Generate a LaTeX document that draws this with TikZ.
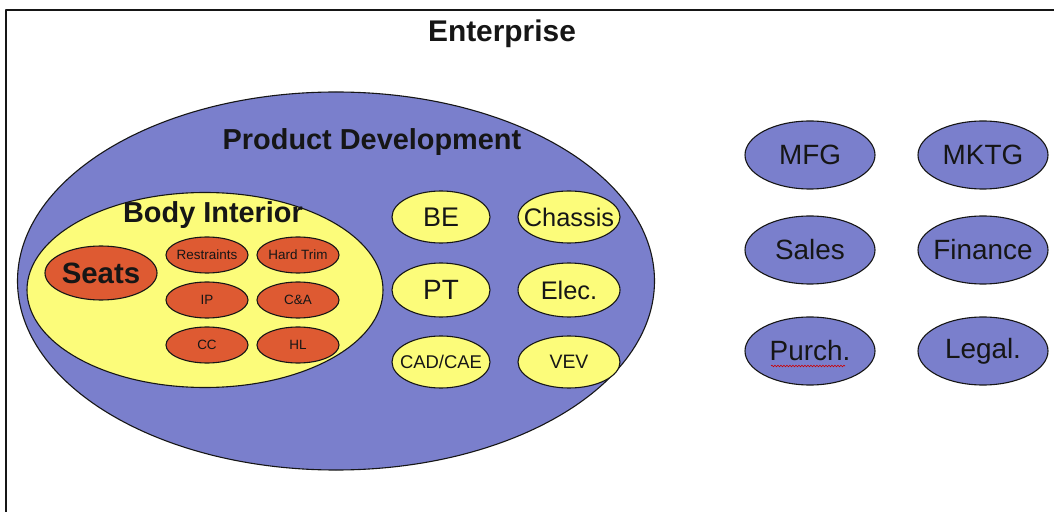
\documentclass[tikz,border=0pt]{standalone}
\usepackage{fontspec}
\setmainfont{Liberation Sans}
\usetikzlibrary{shapes.geometric}
\usetikzlibrary{decorations.pathmorphing}
\definecolor{pdblue}{RGB}{122,127,204}
\definecolor{biyellow}{RGB}{252,252,122}
\definecolor{seatred}{RGB}{222,90,50}
\definecolor{ink}{RGB}{22,22,22}

\begin{document}
\begin{tikzpicture}[x=1bp,y=-1bp,line join=round,
  oval/.style={ellipse,draw=ink,line width=1.1bp,inner sep=-30bp,text=ink},
  dept/.style={oval,fill=pdblue,minimum width=130bp,minimum height=68bp,font=\fontsize{28}{30}\selectfont},
  team/.style={oval,fill=biyellow,minimum width=98bp,minimum height=52bp,font=\fontsize{25.5}{28}\selectfont},
  part/.style={oval,fill=seatred,minimum width=82bp,minimum height=36bp,font=\fontsize{13.5}{15}\selectfont},
  heading/.style={text=ink,font=\bfseries\fontsize{29}{31}\selectfont,inner sep=0pt}]
\useasboundingbox (0,0) rectangle (1054,512);
\fill[white] (0,0) rectangle (1054,512);
% enterprise frame
\draw[line width=1.8bp,ink] (1070,10)--(6,10)--(6,530);
\node[heading,font=\bfseries\fontsize{30}{32}\selectfont] (ent) at (502,34) {Enterprise};
% product development
\node[oval,fill=pdblue,minimum width=637bp,minimum height=378bp] (pd) at (336,281) {};
\node[heading] (pdlabel) at (372,142) {Product Development};
% body interior
\node[oval,fill=biyellow,minimum width=356bp,minimum height=195bp] (bi) at (205,290) {};
\node[heading] (bilabel) at (213,215) {Body Interior};
\node[oval,fill=seatred,minimum width=112bp,minimum height=54bp,font=\bfseries\fontsize{29.5}{31}\selectfont] (seats) at (101,273) {Seats};
\node[part] (restr) at (207,255) {Restraints};
\node[part] (trim) at (298,255) {Hard Trim};
\node[part] (ip) at (207,300) {IP};
\node[part] (ca) at (298,300) {C\&A};
\node[part] (cc) at (207,345) {CC};
\node[part] (hl) at (298,345) {HL};
% other product development teams
\node[team,font=\fontsize{27}{30}\selectfont] (be) at (441,217) {BE};
\node[team,minimum width=102bp] (chassis) at (569,217) {Chassis};
\node[team,font=\fontsize{28}{30}\selectfont,minimum height=54bp] (pt) at (441,290) {PT};
\node[team,minimum width=102bp,minimum height=54bp] (elec) at (569,290) {Elec.};
\node[team,font=\fontsize{18.5}{20}\selectfont] (cad) at (441,362) {CAD/CAE};
\node[team,minimum width=102bp,font=\fontsize{19.5}{22}\selectfont] (vev) at (569,362) {VEV};
% other departments
\node[dept] (mfg) at (810,155) {MFG};
\node[dept] (mktg) at (983,155) {MKTG};
\node[dept] (sales) at (810,250) {Sales};
\node[dept] (fin) at (983,250) {Finance};
\node[dept] (purch) at (810,351) {Purch.};
\node[dept] (legal) at (983,351) {Legal.};
\draw[red!80!black,line width=0.6bp,decorate,decoration={snake,amplitude=0.8bp,segment length=3bp}] (771,366)--(845,366);
\end{tikzpicture}
\end{document}
